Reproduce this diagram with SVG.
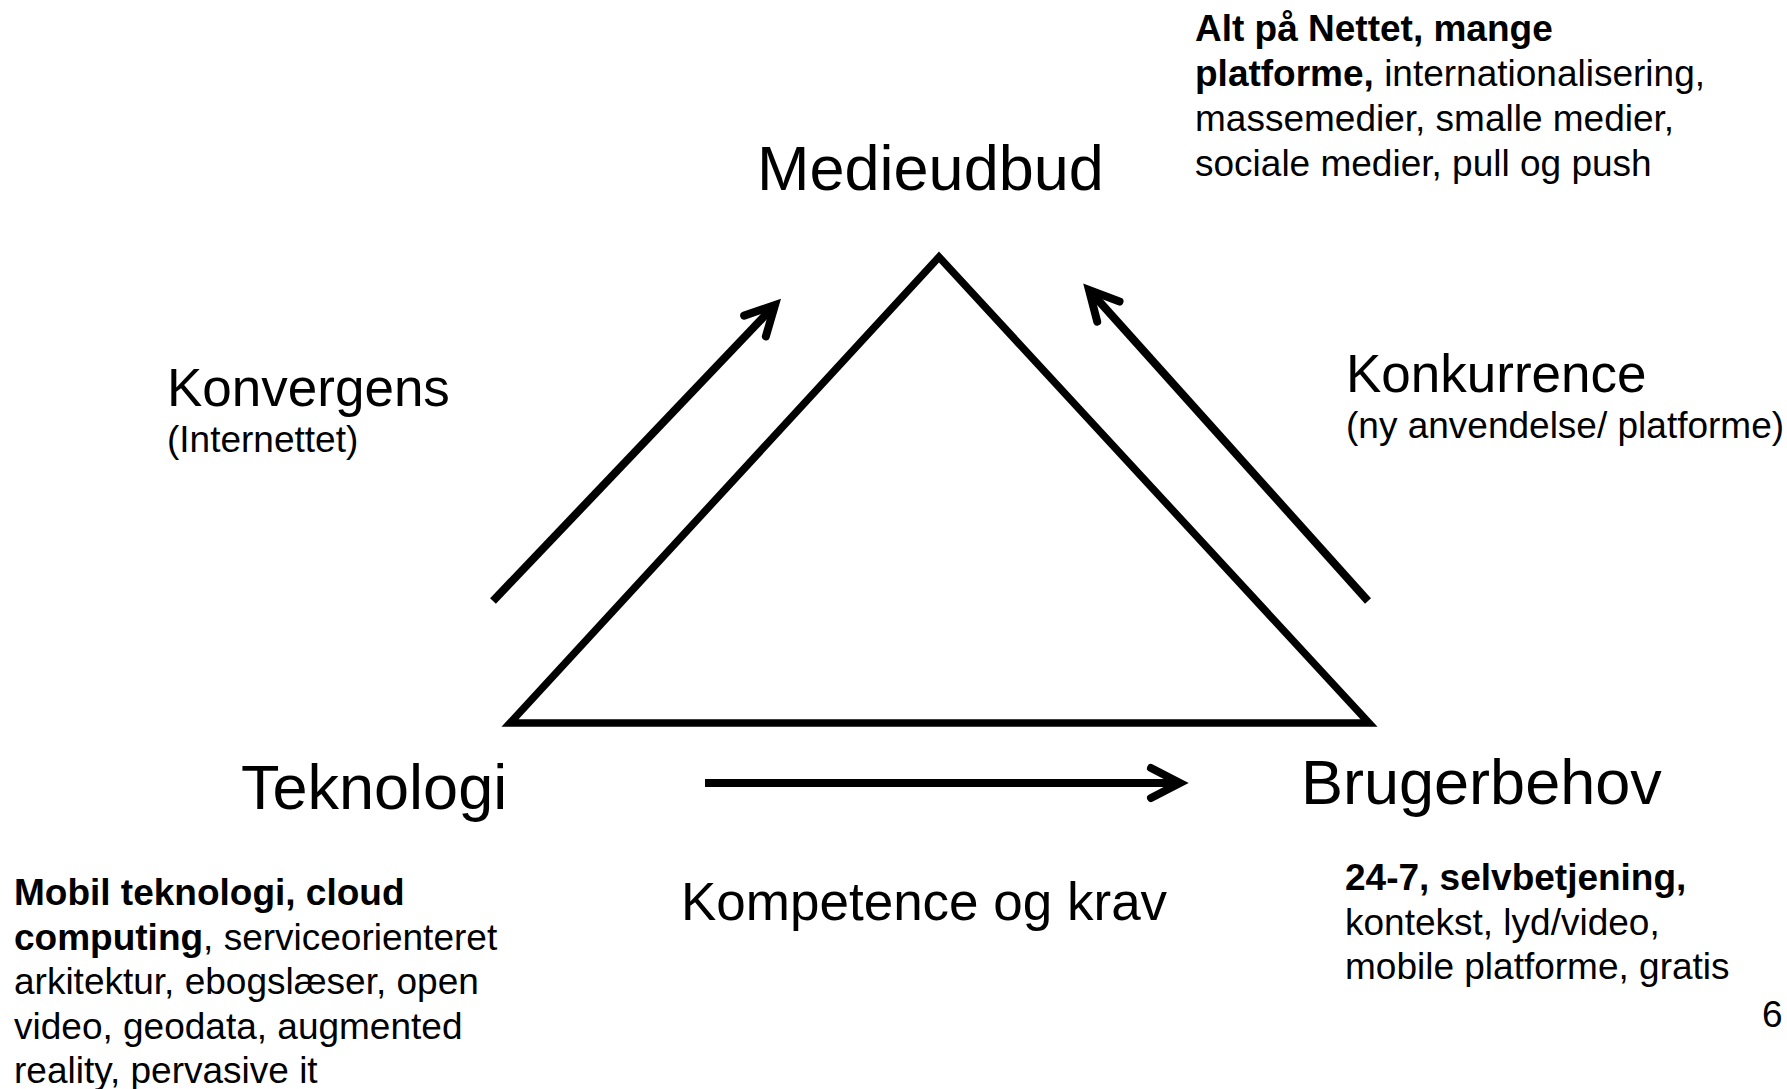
<svg xmlns="http://www.w3.org/2000/svg" width="1787" height="1089" viewBox="0 0 1787 1089">
<style>
text{font-family:"Liberation Sans",Arial,sans-serif;fill:#000}
.big{font-size:63px}
.mid{font-size:53px}
.small{font-size:37px}
.b{font-weight:bold}
.edge{fill:none;stroke:#000;stroke-width:8;stroke-linecap:butt;marker-end:url(#ah)}
</style>
<defs>
<marker id="ah" markerUnits="userSpaceOnUse" orient="auto" refX="0" refY="0" markerWidth="60" markerHeight="60" viewBox="-45 -30 60 60" overflow="visible">
<path d="M-29,-15 L0,0 L-29,15" fill="none" stroke="#000" stroke-width="8" stroke-linecap="round" stroke-linejoin="miter"/>
</marker>
</defs>
<rect width="1787" height="1089" fill="#fff"/>
<g id="triangle">
<polygon points="939,257 510,723 1369,723" fill="none" stroke="#000" stroke-width="7.5" stroke-linejoin="miter" stroke-miterlimit="10"/>
</g>
<g id="connectors">
<line class="edge" x1="493" y1="601" x2="775" y2="305"/>
<line class="edge" x1="1368" y1="601" x2="1089" y2="290"/>
<line class="edge" x1="705" y1="783" x2="1180" y2="783"/>
</g>
<g id="medieudbud">
<text class="big" x="757" y="190">Medieudbud</text>
<text class="small"><tspan x="1195" y="41" class="b">Alt på Nettet, mange</tspan><tspan x="1195" y="86"><tspan class="b">platforme,</tspan> internationalisering,</tspan><tspan x="1195" y="131">massemedier, smalle medier,</tspan><tspan x="1195" y="176">sociale medier, pull og push</tspan></text>
</g>
<g id="teknologi">
<text class="big" x="241" y="809">Teknologi</text>
<text class="small"><tspan x="14" y="905" class="b">Mobil teknologi, cloud</tspan><tspan x="14" y="949.5"><tspan class="b">computing</tspan>, serviceorienteret</tspan><tspan x="14" y="994">arkitektur, ebogslæser, open</tspan><tspan x="14" y="1038.5">video, geodata, augmented</tspan><tspan x="14" y="1083">reality, pervasive it</tspan></text>
</g>
<g id="brugerbehov">
<text class="big" x="1301" y="804">Brugerbehov</text>
<text class="small"><tspan x="1345" y="890" class="b">24-7, selvbetjening,</tspan><tspan x="1345" y="934.5">kontekst, lyd/video,</tspan><tspan x="1345" y="979">mobile platforme, gratis</tspan></text>
</g>
<g id="label-konvergens">
<text class="mid" x="167" y="406">Konvergens</text>
<text class="small" x="167" y="452">(Internettet)</text>
</g>
<g id="label-konkurrence">
<text class="mid" x="1346" y="392">Konkurrence</text>
<text class="small" x="1346" y="438">(ny anvendelse/ platforme)</text>
</g>
<g id="label-kompetence">
<text class="mid" x="681" y="920">Kompetence og krav</text>
</g>
<text class="small" x="1762" y="1027">6</text>
</svg>
